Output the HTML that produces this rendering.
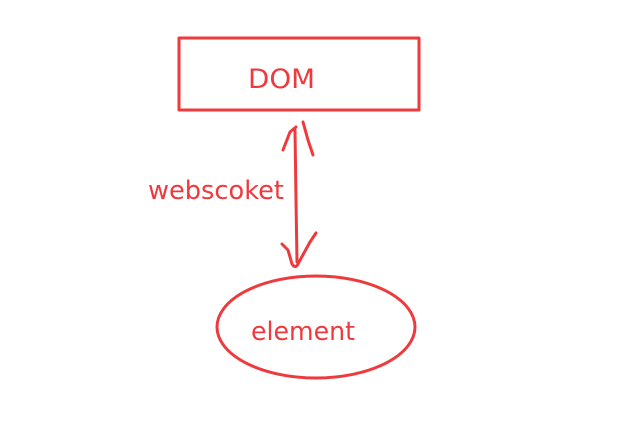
<!DOCTYPE html>
<html><head><style>body{margin:0;background:#fff;}</style></head><body>
<svg width="618" height="439" xmlns="http://www.w3.org/2000/svg" style="display:block">
<rect width="618" height="439" fill="#fff"/>
<g fill="none" stroke="#ee3a3d" stroke-width="3" stroke-linecap="round" stroke-linejoin="round">
<rect x="179" y="38" width="240" height="72"/>
<ellipse cx="316" cy="327" rx="99" ry="51"/>
<path d="M297 262 L296 200 L295 130"/>
<path d="M283 150 L290 132 L296 127"/>
<path d="M303 122 L308 140 L313 155"/>
<path d="M282 244 L288 250 L292 264 Q296 270 299 262 L310 242 L316 233"/>
</g>
<g fill="#ee3a3d" font-family="'DejaVu Sans', sans-serif">
<text x="248" y="88" font-size="27" textLength="67" lengthAdjust="spacingAndGlyphs">DOM</text>
<text x="148" y="199" font-size="26" textLength="136" lengthAdjust="spacingAndGlyphs">webscoket</text>
<text x="251" y="340" font-size="26" textLength="104" lengthAdjust="spacingAndGlyphs">element</text>
</g>
</svg>
</body></html>
